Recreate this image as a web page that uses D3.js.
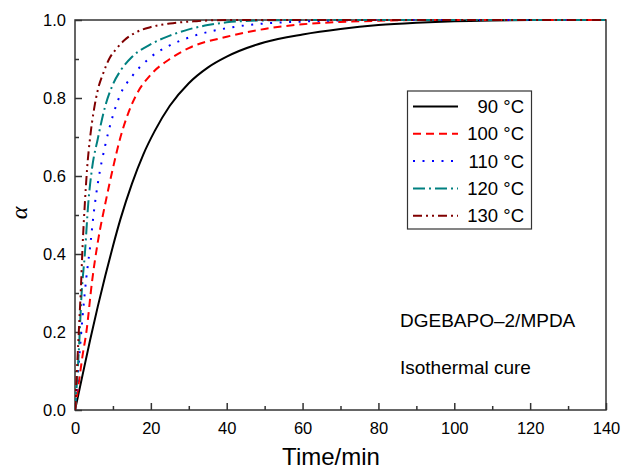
<!DOCTYPE html>
<html>
<head>
<meta charset="utf-8">
<script src="https://cdn.jsdelivr.net/npm/d3@7"></script>
<style>
    body { margin: 0; background: #fff; }
    text { font-family: "Liberation Sans", Arial, sans-serif; fill: #000; }
</style>
</head>
<body>
<svg id="chart" width="623" height="471"></svg>
<script>
// time (min) and conversion alpha for each cure temperature
let t90 = [0, 2, 4, 6, 8, 10, 12, 15, 18, 21, 25, 30, 35, 40, 50, 60, 70, 80, 90, 100, 110, 120, 140];
let a90 = [0, 0.09, 0.18, 0.265, 0.345, 0.42, 0.49, 0.58, 0.655, 0.715, 0.78, 0.838, 0.878, 0.906, 0.943, 0.963, 0.977, 0.987, 0.993, 0.997, 0.999, 1, 1];

let t100 = [0, 1, 2, 3, 4.5, 6, 8, 10, 12, 14, 16, 20, 25, 30, 40, 50, 60, 70, 80, 90, 140];
let a100 = [0, 0.07, 0.14, 0.2, 0.33, 0.43, 0.53, 0.62, 0.7, 0.76, 0.805, 0.86, 0.9, 0.928, 0.957, 0.977, 0.989, 0.995, 0.998, 1, 1];

let t110 = [0, 1, 2, 3, 4, 5, 6, 8, 10, 12, 15, 20, 25, 30, 40, 50, 60, 70, 80, 140];
let a110 = [0, 0.12, 0.24, 0.34, 0.42, 0.51, 0.58, 0.68, 0.755, 0.81, 0.855, 0.905, 0.935, 0.955, 0.979, 0.991, 0.996, 0.999, 1, 1];

let t120 = [0, 0.5, 1, 1.75, 2.6, 3.5, 4.5, 6, 8, 10, 12, 15, 20, 25, 30, 35, 40, 50, 60, 140];
let a120 = [0, 0.07, 0.15, 0.3, 0.4, 0.53, 0.62, 0.695, 0.78, 0.835, 0.87, 0.905, 0.938, 0.96, 0.976, 0.987, 0.994, 0.999, 1, 1];

let t130 = [0, 0.5, 1, 1.5, 2, 2.6, 3.2, 4, 5, 6, 7.5, 9, 11, 13, 16, 20, 25, 32, 40, 140];
let a130 = [0, 0.1, 0.2, 0.3, 0.42, 0.53, 0.62, 0.7, 0.77, 0.82, 0.865, 0.9, 0.927, 0.948, 0.968, 0.982, 0.991, 0.997, 1, 1];

let seriesNames = ["90 \u00B0C", "100 \u00B0C", "110 \u00B0C", "120 \u00B0C", "130 \u00B0C"];
let seriesT = [t90, t100, t110, t120, t130];
let seriesA = [a90, a100, a110, a120, a130];

let xTicks = [0, 20, 40, 60, 80, 100, 120, 140];
let yTicks = [0, 0.2, 0.4, 0.6, 0.8, 1.0];

let colors = ["#000000", "#ff0000", "#0000ff", "#008080", "#800000"];
let dashes = [null, "8,5", "2,7.5", "12,4,2,4", "9,4,2,4,2,4"];

let svg = d3.select("#chart");
let plotLeft = 75, plotRight = 606, plotTop = 20, plotBottom = 410;

let x = d3.scaleLinear().domain([0, 140]).range([plotLeft, plotRight]);
let y = d3.scaleLinear().domain([0, 1]).range([plotBottom, plotTop]);

// major ticks (inside)
let xAxis = d3.axisBottom(x).tickValues(xTicks).tickSize(-7).tickPadding(12).tickFormat(d3.format("d"));
let yAxis = d3.axisLeft(y).tickValues(yTicks).tickSize(-7).tickPadding(9).tickFormat(d3.format(".1f"));

svg.append("g").attr("transform", "translate(0," + plotBottom + ")").call(xAxis);
svg.append("g").attr("transform", "translate(" + plotLeft + ",0)").call(yAxis);

// minor ticks
svg.append("g").attr("transform", "translate(0," + plotBottom + ")")
    .call(d3.axisBottom(x).tickValues(d3.range(10, 140, 20)).tickSize(-4).tickFormat(""));
svg.append("g").attr("transform", "translate(" + plotLeft + ",0)")
    .call(d3.axisLeft(y).tickValues([0.1, 0.3, 0.5, 0.7, 0.9]).tickSize(-4).tickFormat(""));

svg.selectAll(".domain").remove();
svg.selectAll(".tick line").attr("stroke", "#333").attr("stroke-width", 1.5);
svg.selectAll(".tick text").style("font-size", "16.5px").style("font-family", "Liberation Sans, Arial, sans-serif").attr("fill", "#000");

// frame
svg.append("rect")
    .attr("x", plotLeft).attr("y", plotTop)
    .attr("width", plotRight - plotLeft).attr("height", plotBottom - plotTop)
    .attr("fill", "none").attr("stroke", "#333").attr("stroke-width", 1.5);

svg.append("clipPath").attr("id", "clip")
    .append("rect").attr("x", plotLeft).attr("y", plotTop - 2)
    .attr("width", plotRight - plotLeft).attr("height", plotBottom - plotTop + 2);

let line = d3.line()
    .x(d => x(d[0]))
    .y(d => y(d[1]))
    .curve(d3.curveMonotoneX);

for (let i = 0; i < seriesNames.length; ++i) {
    let pts = seriesT[i].map((t, j) => [t, seriesA[i][j]]);
    svg.append("path")
        .attr("d", line(pts))
        .attr("fill", "none")
        .attr("clip-path", "url(#clip)")
        .attr("stroke", colors[i])
        .attr("stroke-width", 2)
        .attr("stroke-dasharray", dashes[i]);
}

// legend
let lg = svg.append("g");
lg.append("rect")
    .attr("x", 407.5).attr("y", 91).attr("width", 124).attr("height", 138)
    .attr("fill", "#fff").attr("stroke", "#333").attr("stroke-width", 1.2);
for (let i = 0; i < seriesNames.length; ++i) {
    let ly = 106.5 + i * 27.3;
    lg.append("line")
        .attr("x1", 413).attr("x2", 458).attr("y1", ly).attr("y2", ly)
        .attr("stroke", colors[i]).attr("stroke-width", 2)
        .attr("stroke-dasharray", dashes[i]);
    lg.append("text")
        .attr("x", 524).attr("y", ly + 6.5)
        .attr("text-anchor", "end")
        .style("font-size", "18.5px")
        .text(seriesNames[i]);
}

// annotations
svg.append("text").attr("x", 400).attr("y", 327).style("font-size", "19px").text("DGEBAPO\u20132/MPDA");
svg.append("text").attr("x", 400).attr("y", 374).style("font-size", "19px").text("Isothermal cure");

// axis titles
svg.append("text")
    .attr("x", 331).attr("y", 465)
    .attr("text-anchor", "middle")
    .style("font-size", "24px")
    .text("Time/min");
svg.append("text")
    .attr("transform", "translate(27,213) rotate(-90)")
    .attr("text-anchor", "middle")
    .style("font-size", "24px")
    .style("font-family", "Liberation Serif, Times New Roman, serif")
    .style("font-style", "italic")
    .text("\u03B1");
</script>
</body>
</html>
